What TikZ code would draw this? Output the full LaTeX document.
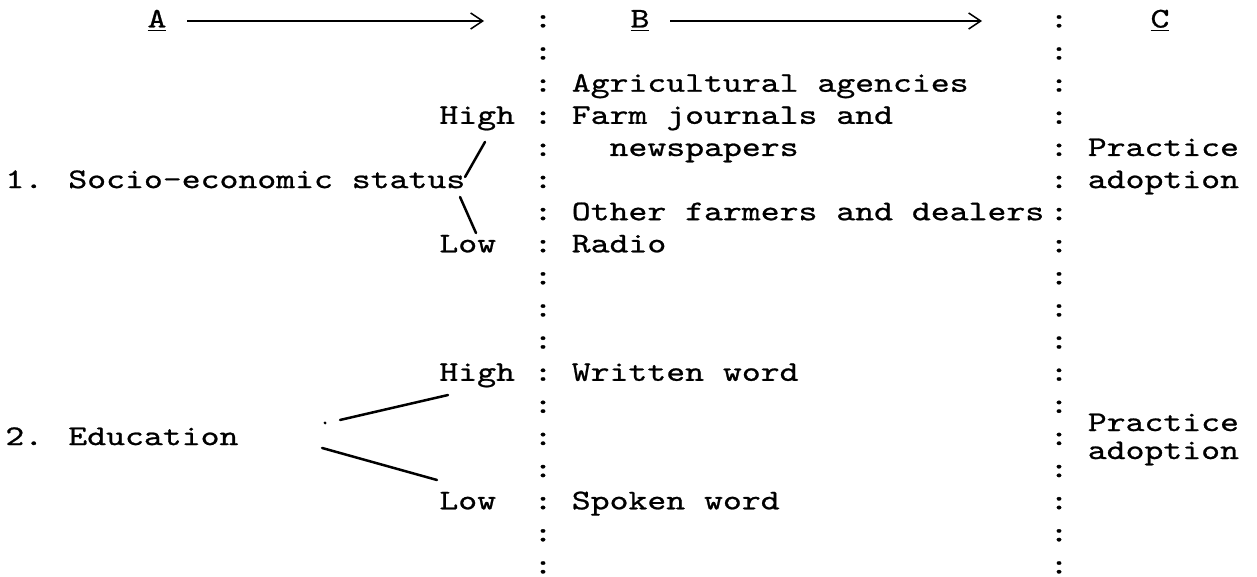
\documentclass[tikz,border=0pt]{standalone}
\usepackage{fontspec}
\newfontfamily\typewr{lmmono10-regular}[Extension=.otf, FakeStretch=1.263, FakeBold=0.8]
\usetikzlibrary{arrows.meta}

\begin{document}
\begin{tikzpicture}[
  x=0.5pt, y=-0.5pt,
  font=\typewr\fontsize{14.25}{17}\selectfont,
  txt/.style={inner sep=0pt, anchor=base west},
  colon/.style={inner sep=0pt, anchor=base},
  flow/.style={-{Straight Barb[length=6pt,width=8pt]}, line width=0.75pt},
  branch/.style={line width=1.25pt, line cap=round},
]
\useasboundingbox[fill=white] (0,0) rectangle (1257,577);

% ---- the two columns of colons ----
\foreach \k in {0,...,17}{
  \node[colon] (ca\k) at (543,{27.5+32.12*\k}) {:};
  \node[colon] (cb\k) at (1059,{27.5+32.12*\k}) {:};
}

% ---- headings A -> B -> C ----
\node[colon] (hA) at (157,27.5) {\underline{A}};
\node[colon] (hB) at (640,27.5) {\underline{B}};
\node[colon] (hC) at (1160,27.5) {\underline{C}};
\coordinate (aEnd) at (484,21);
\coordinate (bEnd) at (982,21);
\draw[flow] ([shift={(20.5,-6.5)}]hA.base east) -- (aEnd);
\draw[flow] ([shift={(20.5,-6.5)}]hB.base east) -- (bEnd);

% ---- 1. socio-economic status ----
\node[txt] (agr) at (571.4,91.74) {Agricultural agencies};
\node[txt] (hi1) at (439,123.86) {High};
\node[txt] (farm) at (571.4,123.86) {Farm journals and};
\node[txt] (news) at (609.2,155.98) {newspapers};
\node[txt] (prac1) at (1087.4,155.98) {Practice};
\node[txt] (ses) at (5,188.1) {1. Socio-economic status};
\node[txt] (adop1) at (1087.4,188.1) {adoption};
\node[txt] (oth) at (571.4,220.22) {Other farmers and dealers};
\node[txt] (lo1) at (439,252.34) {Low};
\node[txt] (radio) at (571.4,252.34) {Radio};

\draw[branch] ([shift={(-0.6,-11.1)}]ses.base east) -- ([shift={(46,18.1)}]hi1.base west);
\draw[branch] ([shift={(-5.6,8.9)}]ses.base east) -- ([shift={(37,-19.3)}]lo1.base west);

% ---- 2. education ----
\node[txt] (hi2) at (439,380.82) {High};
\node[txt] (writ) at (571.4,380.82) {Written word};
\node[txt] (prac2) at (1087.4,431) {Practice};
\node[txt] (edu) at (5,445.06) {2. Education};
\node[txt] (adop2) at (1087.4,459) {adoption};
\node[txt] (lo2) at (439,509.3) {Low};
\node[txt] (spok) at (571.4,509.3) {Spoken word};

\fill ([shift={(86.2,-22.1)}]edu.base east) circle (1.6);
\draw[branch] ([shift={(101.2,-25.1)}]edu.base east) -- ([shift={(9,14.2)}]hi2.base west);
\draw[branch] ([shift={(83.2,2.9)}]edu.base east) -- ([shift={(-2,-29.3)}]lo2.base west);
\end{tikzpicture}
\end{document}
